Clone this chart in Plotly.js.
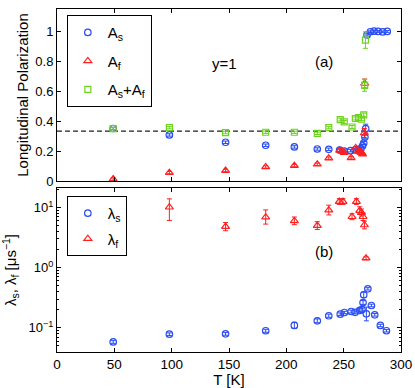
<!DOCTYPE html>
<html>
<head>
<meta charset="utf-8">
<script src="https://cdn.plot.ly/plotly-3.0.1.min.js"></script>
<style>html,body{margin:0;padding:0;background:#fff;}#chart{width:415px;height:388px;}</style>
</head>
<body>
<div id="chart"></div>
<script>
// ---- Top panel: longitudinal polarization ----
var T_As = [49, 98, 147, 182, 207, 227, 237, 246.5, 250.5, 256, 260, 263, 265, 266.5, 267.5, 268.5, 269.2, 270.4, 273.3, 276.5, 280, 284, 288];
var As   = [0.351, 0.308, 0.259, 0.239, 0.228, 0.214, 0.212, 0.207, 0.200, 0.203, 0.208, 0.212, 0.215, 0.235, 0.254, 0.294, 0.350, 0.977, 0.998, 1.002, 1.0, 0.997, 1.0];
var As_err = [0.008, 0.008, 0.008, 0.008, 0.008, 0.008, 0.008, 0.008, 0.008, 0.008, 0.008, 0.008, 0.008, 0.01, 0.01, 0.012, 0.03, 0.008, 0.006, 0.006, 0.006, 0.006, 0.006];

var T_Af = [49, 98, 147, 182, 207, 227, 237, 246.5, 248.5, 250.5, 256.5, 260.5, 263, 264.5, 265.5, 266.5, 268, 268.3];
var Af   = [0.013, 0.056, 0.07, 0.094, 0.103, 0.112, 0.153, 0.205, 0.199, 0.19, 0.155, 0.221, 0.20, 0.194, 0.19, 0.18, 0.321, 0.652];
var Af_err = [0.008, 0.008, 0.008, 0.008, 0.008, 0.008, 0.008, 0.008, 0.008, 0.008, 0.008, 0.008, 0.008, 0.008, 0.008, 0.008, 0.03, 0.03];

var T_Sum = [49, 98, 147, 182, 207, 227, 237, 247, 250.5, 257.3, 260.2, 263, 265.5, 267.5, 268.3, 269];
var Sum   = [0.35, 0.357, 0.324, 0.326, 0.326, 0.319, 0.357, 0.411, 0.395, 0.361, 0.418, 0.424, 0.413, 0.442, 0.64, 0.942];
var Sum_err = [0.008, 0.008, 0.008, 0.008, 0.008, 0.008, 0.008, 0.01, 0.01, 0.01, 0.01, 0.01, 0.01, 0.012, 0.04, 0.055];

var refLevel = 1/3;

// ---- Bottom panel: relaxation rates ----
var T_ls = [49, 98, 147, 182, 207, 227, 237, 247, 250.6, 256.5, 260, 264, 266, 266.9, 267.5, 269.8, 271.1, 274.2, 277.1, 282, 287.3];
var ls   = [0.058, 0.078, 0.079, 0.089, 0.109, 0.130, 0.158, 0.168, 0.179, 0.186, 0.180, 0.194, 0.200, 0.262, 0.352, 0.17, 0.443, 0.234, 0.164, 0.109, 0.089];
var ls_errp = [0.003, 0.004, 0.004, 0.005, 0.014, 0.01, 0.01, 0.008, 0.008, 0.01, 0.01, 0.012, 0.012, 0.02, 0.04, 0.05, 0.02, 0.012, 0.008, 0.005, 0.004];
var ls_errm = [0.003, 0.004, 0.004, 0.005, 0.012, 0.009, 0.009, 0.008, 0.008, 0.01, 0.01, 0.011, 0.011, 0.018, 0.035, 0.04, 0.02, 0.011, 0.008, 0.005, 0.004];

var T_lf = [98, 147, 182, 207, 227, 237, 246.2, 249.4, 257.3, 261.1, 264, 265.5, 266.9, 268.1, 269.5];
var lf   = [10.07, 4.8, 6.88, 5.97, 4.99, 9.0, 12.5, 12.5, 7.0, 12.5, 8.85, 8.2, 7.0, 5.1, 1.43];
var lf_errp = [3.8, 0.8, 2.2, 0.95, 0.8, 1.9, 1.5, 1.5, 0.85, 1.5, 1.4, 1.2, 1.1, 0.8, 0.08];
var lf_errm = [4.0, 0.7, 1.6, 0.8, 0.7, 1.5, 1.3, 1.3, 0.75, 1.3, 1.2, 1.0, 0.95, 0.7, 0.08];

var xTicks = [0, 50, 100, 150, 200, 250, 300];
var yTopTicks = [0, 0.2, 0.4, 0.6, 0.8, 1];
var yLogTicks = [0.1, 1, 10];
var yLogTickText = ['10<sup>\u22121</sup>', '10<sup>0</sup>', '10<sup>1</sup>'];
var yLogMinor = [0.04, 0.05, 0.06, 0.07, 0.08, 0.09, 0.2, 0.3, 0.4, 0.5, 0.6, 0.7, 0.8, 0.9, 2, 3, 4, 5, 6, 7, 8, 9, 20];

var BLUE = '#2a4cf2', RED = '#ff1f1f', GREEN = '#6cd41c';
var FONT = 'Liberation Sans, Arial, sans-serif';

function eb(arr, color, arrm) {
  var o = {type: 'data', array: arr, visible: true, color: color, thickness: 1, width: 2.5};
  if (arrm) { o.symmetric = false; o.arrayminus = arrm; }
  return o;
}

var traces = [
  {x: T_As, y: As, xaxis: 'x', yaxis: 'y', type: 'scatter', mode: 'markers', name: 'A<sub>s</sub>',
   legendgroup: 'g1', legend: 'legend',
   marker: {symbol: 'circle-open', size: 6.5, color: BLUE, line: {width: 1.2, color: BLUE}}, error_y: eb(As_err, BLUE)},
  {x: T_Af, y: Af, xaxis: 'x', yaxis: 'y', type: 'scatter', mode: 'markers', name: 'A<sub>f</sub>',
   legendgroup: 'g2', legend: 'legend',
   marker: {symbol: 'triangle-up-open', size: 7, color: RED, line: {width: 1.2, color: RED}}, error_y: eb(Af_err, RED)},
  {x: T_Sum, y: Sum, xaxis: 'x', yaxis: 'y', type: 'scatter', mode: 'markers', name: 'A<sub>s</sub>+A<sub>f</sub>',
   legendgroup: 'g3', legend: 'legend',
   marker: {symbol: 'square-open', size: 6, color: GREEN, line: {width: 1.2, color: GREEN}}, error_y: eb(Sum_err, GREEN)},
  {x: T_ls, y: ls, xaxis: 'x2', yaxis: 'y2', type: 'scatter', mode: 'markers', name: '\u03bb<sub>s</sub>',
   legendgroup: 'h1', legend: 'legend2',
   marker: {symbol: 'circle-open', size: 6.5, color: BLUE, line: {width: 1.2, color: BLUE}}, error_y: eb(ls_errp, BLUE, ls_errm)},
  {x: T_lf, y: lf, xaxis: 'x2', yaxis: 'y2', type: 'scatter', mode: 'markers', name: '\u03bb<sub>f</sub>',
   legendgroup: 'h2', legend: 'legend2',
   marker: {symbol: 'triangle-up-open', size: 7, color: RED, line: {width: 1.2, color: RED}}, error_y: eb(lf_errp, RED, lf_errm)}
];

var axCommon = {
  showline: true, linecolor: '#000', linewidth: 1, mirror: 'allticks',
  ticks: 'inside', ticklen: 4, tickcolor: '#000', tickwidth: 1,
  showgrid: false, zeroline: false,
  tickfont: {family: FONT, size: 13, color: '#000'}
};

var layout = {
  width: 415, height: 388,
  margin: {l: 57, r: 14, t: 9, b: 36},
  paper_bgcolor: '#fff', plot_bgcolor: '#fff',
  font: {family: FONT, color: '#000'},
  xaxis: Object.assign({}, axCommon, {domain: [0, 1], anchor: 'y', range: [0, 300], tickvals: xTicks, showticklabels: false}),
  yaxis: Object.assign({}, axCommon, {domain: [0.4985, 1], anchor: 'x', range: [0, 1.15], tickvals: yTopTicks,
    title: {text: 'Longitudinal Polarization', font: {family: FONT, size: 15, color: '#000'}, standoff: 3}}),
  xaxis2: Object.assign({}, axCommon, {domain: [0, 1], anchor: 'y2', range: [0, 300], tickvals: xTicks,
    tickfont: {family: FONT, size: 13.5, color: '#000'},
    title: {text: 'T [K]', font: {family: FONT, size: 15, color: '#000'}, standoff: 0}}),
  yaxis2: Object.assign({}, axCommon, {domain: [0, 0.478], anchor: 'x2', type: 'log', range: [-1.404, 1.322],
    tickvals: yLogTicks, ticktext: yLogTickText,
    minor: {ticks: 'inside', ticklen: 2, tickcolor: '#000', tickvals: yLogMinor, showgrid: false},
    title: {text: '\u03bb<sub>s</sub>, \u03bb<sub>f</sub> [\u03bcs<sup>\u22121</sup>]', font: {family: FONT, size: 15, color: '#000'}, standoff: 13}}),
  legend: {x: 0.0286, y: 0.982, xanchor: 'left', yanchor: 'top', bgcolor: '#fff', bordercolor: '#000', borderwidth: 1,
    font: {family: FONT, size: 15, color: '#000'}, traceorder: 'grouped', tracegroupgap: 6},
  legend2: {x: 0.0286, y: 0.455, xanchor: 'left', yanchor: 'top', bgcolor: '#fff', bordercolor: '#000', borderwidth: 1,
    font: {family: FONT, size: 15, color: '#000'}, traceorder: 'grouped', tracegroupgap: 3},
  shapes: [
    {type: 'line', xref: 'x domain', x0: 0, x1: 1, yref: 'y', y0: refLevel, y1: refLevel,
     line: {color: '#222', width: 1.3, dash: '5px,3px'}, layer: 'below'}
  ],
  annotations: [
    {text: 'y=1', xref: 'paper', yref: 'paper', x: 0.488, y: 0.84, xanchor: 'center', yanchor: 'middle', showarrow: false,
     font: {family: FONT, size: 15, color: '#000'}},
    {text: '(a)', xref: 'paper', yref: 'paper', x: 0.776, y: 0.848, xanchor: 'center', yanchor: 'middle', showarrow: false,
     font: {family: FONT, size: 15, color: '#000'}},
    {text: '(b)', xref: 'paper', yref: 'paper', x: 0.776, y: 0.292, xanchor: 'center', yanchor: 'middle', showarrow: false,
     font: {family: FONT, size: 15, color: '#000'}}
  ],
  showlegend: true
};

Plotly.newPlot('chart', traces, layout, {displayModeBar: false, staticPlot: true});
</script>
</body>
</html>
